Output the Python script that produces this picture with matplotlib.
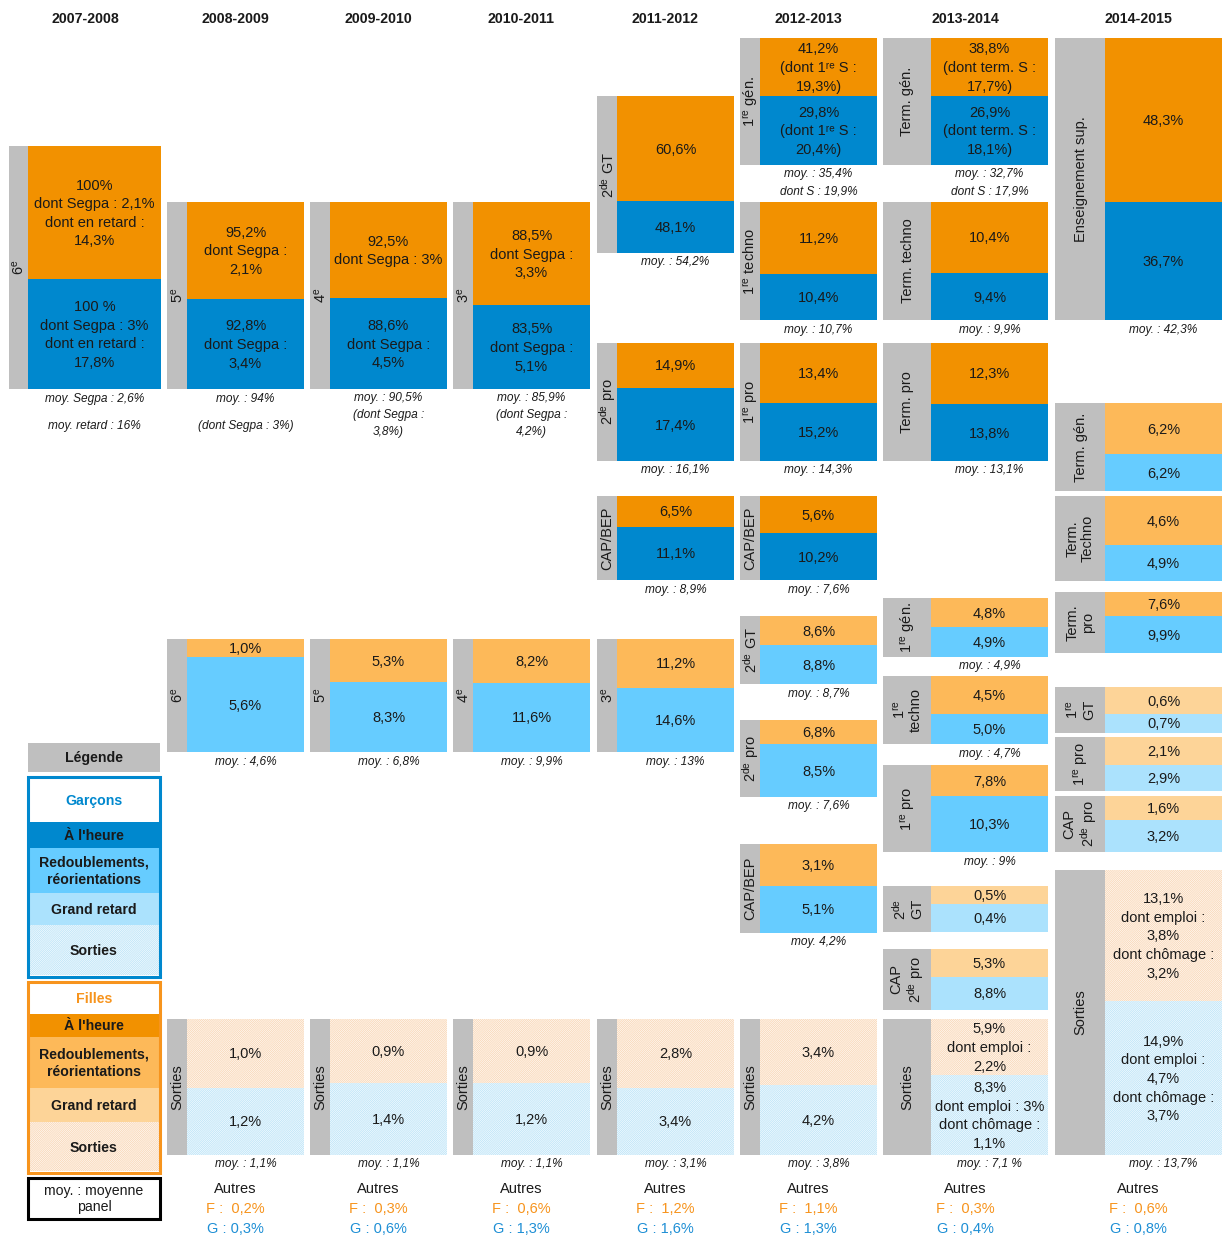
import matplotlib
matplotlib.use("Agg")
import matplotlib.pyplot as plt
from matplotlib.patches import Rectangle

plt.rcParams["font.family"] = ["Liberation Sans", "DejaVu Sans"]
plt.rcParams["mathtext.fontset"] = "custom"
plt.rcParams["mathtext.rm"] = "Liberation Sans"
plt.rcParams["mathtext.it"] = "Liberation Sans:italic"
plt.rcParams["mathtext.bf"] = "Liberation Sans:bold"
plt.rcParams["hatch.linewidth"] = 0.5

RE = r"$^{\mathrm{re}}$"
DE = r"$^{\mathrm{de}}$"
E = r"$^{\mathrm{e}}$"
RE_INLINE = "\u02b3\u1d49"   # superscript "re" that keeps line heights even

# ---------------------------------------------------------------- data
years = ["2007-2008", "2008-2009", "2009-2010", "2010-2011",
         "2011-2012", "2012-2013", "2013-2014", "2014-2015"]

labels_0708 = ["6" + E]
girls_0708 = ["100%\ndont Segpa : 2,1%\ndont en retard :\n14,3%"]
boys_0708 = ["100 %\ndont Segpa : 3%\ndont en retard :\n17,8%"]
avg_0708 = [("moy. Segpa : 2,6%", "moy. retard : 16%")]

labels_0809 = ["5" + E, "6" + E, "Sorties"]
girls_0809 = ["95,2%\ndont Segpa :\n2,1%", "1,0%", "1,0%"]
boys_0809 = ["92,8%\ndont Segpa :\n3,4%", "5,6%", "1,2%"]
avg_0809 = [("moy. : 94%", "(dont Segpa : 3%)"), "moy. : 4,6%", "moy. : 1,1%"]

labels_0910 = ["4" + E, "5" + E, "Sorties"]
girls_0910 = ["92,5%\ndont Segpa : 3%", "5,3%", "0,9%"]
boys_0910 = ["88,6%\ndont Segpa :\n4,5%", "8,3%", "1,4%"]
avg_0910 = ["moy. : 90,5%\n(dont Segpa :\n3,8%)", "moy. : 6,8%", "moy. : 1,1%"]

labels_1011 = ["3" + E, "4" + E, "Sorties"]
girls_1011 = ["88,5%\ndont Segpa :\n3,3%", "8,2%", "0,9%"]
boys_1011 = ["83,5%\ndont Segpa :\n5,1%", "11,6%", "1,2%"]
avg_1011 = ["moy. : 85,9%\n(dont Segpa :\n4,2%)", "moy. : 9,9%", "moy. : 1,1%"]

labels_1112 = ["2" + DE + " GT", "2" + DE + " pro", "CAP/BEP", "3" + E, "Sorties"]
girls_1112 = ["60,6%", "14,9%", "6,5%", "11,2%", "2,8%"]
boys_1112 = ["48,1%", "17,4%", "11,1%", "14,6%", "3,4%"]
avg_1112 = ["moy. : 54,2%", "moy. : 16,1%", "moy. : 8,9%", "moy. : 13%", "moy. : 3,1%"]

labels_1213 = ["1" + RE + " gén.", "1" + RE + " techno", "1" + RE + " pro", "CAP/BEP",
               "2" + DE + " GT", "2" + DE + " pro", "CAP/BEP", "Sorties"]
girls_1213 = ["41,2%\n(dont 1" + RE_INLINE + " S :\n19,3%)", "11,2%", "13,4%", "5,6%",
              "8,6%", "6,8%", "3,1%", "3,4%"]
boys_1213 = ["29,8%\n(dont 1" + RE_INLINE + " S :\n20,4%)", "10,4%", "15,2%", "10,2%",
             "8,8%", "8,5%", "5,1%", "4,2%"]
avg_1213 = ["moy. : 35,4%\ndont S : 19,9%", "moy. : 10,7%", "moy. : 14,3%", "moy. : 7,6%",
            "moy. : 8,7%", "moy. : 7,6%", "moy. 4,2%", "moy. : 3,8%"]

labels_1314 = ["Term. gén.", "Term. techno", "Term. pro", "1" + RE + " gén.",
               "1" + RE + "\ntechno", "1" + RE + " pro", "2" + DE + "\nGT",
               "CAP\n2" + DE + " pro", "Sorties"]
girls_1314 = ["38,8%\n(dont term. S :\n17,7%)", "10,4%", "12,3%", "4,8%", "4,5%",
              "7,8%", "0,5%", "5,3%", "5,9%\ndont emploi :\n2,2%"]
boys_1314 = ["26,9%\n(dont term. S :\n18,1%)", "9,4%", "13,8%", "4,9%", "5,0%",
             "10,3%", "0,4%", "8,8%", "8,3%\ndont emploi : 3%\ndont chômage :\n1,1%"]
avg_1314 = ["moy. : 32,7%\ndont S : 17,9%", "moy. : 9,9%", "moy. : 13,1%", "moy. : 4,9%",
            "moy. : 4,7%", "moy. : 9%", "", "", "moy. : 7,1 %"]

labels_1415 = ["Enseignement sup.", "Term. gén.", "Term.\nTechno", "Term.\npro",
               "1" + RE + "\nGT", "1" + RE + " pro", "CAP\n2" + DE + " pro", "Sorties"]
girls_1415 = ["48,3%", "6,2%", "4,6%", "7,6%", "0,6%", "2,1%", "1,6%",
              "13,1%\ndont emploi :\n3,8%\ndont chômage :\n3,2%"]
boys_1415 = ["36,7%", "6,2%", "4,9%", "9,9%", "0,7%", "2,9%", "3,2%",
             "14,9%\ndont emploi :\n4,7%\ndont chômage :\n3,7%"]
avg_1415 = ["moy. : 42,3%", "", "", "", "", "", "", "moy. : 13,7%"]

# "Autres" exits per year (girls, boys); none for the first year
others_girls = [None, "0,2%", "0,3%", "0,6%", "1,2%", "1,1%", "0,3%", "0,6%"]
others_boys = [None, "0,3%", "0,6%", "1,3%", "1,6%", "1,3%", "0,4%", "0,8%"]

# ---------------------------------------------------------------- layout (pixels)
# column: label strip left, box left, box right
col_x = [(9, 28, 161), (167, 187, 304), (310, 330, 447), (453, 473, 590),
         (597, 617, 734), (740, 760, 877), (883, 931, 1048), (1055, 1105, 1222)]
# block rows: top, girls/boys split, bottom, tier
rows = [
    [(146, 279, 389, 0)],
    [(202, 299, 389, 0), (639, 657, 752, 1), (1019, 1088, 1155, 3)],
    [(202, 298, 389, 0), (639, 682, 752, 1), (1019, 1083, 1155, 3)],
    [(202, 305, 389, 0), (639, 683, 752, 1), (1019, 1083, 1155, 3)],
    [(96, 201, 253, 0), (343, 388, 461, 0), (496, 527, 580, 0), (639, 688, 752, 1),
     (1019, 1088, 1155, 3)],
    [(38, 96, 165, 0), (202, 274, 320, 0), (343, 403, 461, 0), (496, 533, 580, 0),
     (616, 645, 684, 1), (720, 744, 797, 1), (844, 886, 933, 1), (1019, 1085, 1155, 3)],
    [(38, 96, 165, 0), (202, 273, 320, 0), (343, 404, 461, 0), (598, 627, 657, 1),
     (676, 714, 744, 1), (765, 796, 852, 1), (886, 904, 932, 2), (949, 977, 1010, 2),
     (1019, 1075, 1155, 3)],
    [(38, 202, 320, 0), (403, 454, 491, 1), (496, 545, 581, 1), (592, 616, 653, 1),
     (687, 714, 733, 2), (737, 765, 791, 2), (796, 820, 852, 2), (870, 1001, 1155, 3)],
]

all_labels = [labels_0708, labels_0809, labels_0910, labels_1011,
              labels_1112, labels_1213, labels_1314, labels_1415]
all_girls = [girls_0708, girls_0809, girls_0910, girls_1011,
             girls_1112, girls_1213, girls_1314, girls_1415]
all_boys = [boys_0708, boys_0809, boys_0910, boys_1011,
            boys_1112, boys_1213, boys_1314, boys_1415]
all_avg = [avg_0708, avg_0809, avg_0910, avg_1011,
           avg_1112, avg_1213, avg_1314, avg_1415]

# ---------------------------------------------------------------- styles
GREY = "#BFBFBF"
GIRL = ["#F29100", "#FDB959", "#FDD498", "#FFF9F3"]
BOY = ["#0088CE", "#66CCFF", "#ABE2FD", "#F4FBFF"]
GIRL_HATCH = "#F8D3B0"
BOY_HATCH = "#B8E2F6"
TXT = "#1A1A1A"
VAL_FS = 10.5
AVG_FS = 8.6

fig = plt.figure(figsize=(12.23, 12.37), dpi=100)
ax = fig.add_axes([0, 0, 1, 1])
ax.set_xlim(0, 1223)
ax.set_ylim(1237, 0)
ax.axis("off")


def box(x0, y0, x1, y1, color, hatch_color=None, **kw):
    if hatch_color is None:
        ax.add_patch(Rectangle((x0, y0), x1 - x0, y1 - y0, facecolor=color,
                               edgecolor="none", lw=0, **kw))
    else:
        ax.add_patch(Rectangle((x0, y0), x1 - x0, y1 - y0, facecolor=color,
                               edgecolor=hatch_color, lw=0, hatch="/" * 16, **kw))


for c in range(len(years)):
    gx, bx0, bx1 = col_x[c]
    ax.text((gx + bx1) / 2, 19, years[c], ha="center", va="center",
            fontsize=10.2, fontweight="bold", color=TXT)
    for (top, mid, bot, tier), lab, g, b, avg in zip(
            rows[c], all_labels[c], all_girls[c], all_boys[c], all_avg[c]):
        box(gx, top, bx0, bot, GREY)
        hatched = tier == 3
        box(bx0, top, bx1, mid, GIRL[tier], GIRL_HATCH if hatched else None)
        box(bx0, mid, bx1, bot, BOY[tier], BOY_HATCH if hatched else None)
        ax.text((gx + bx0) / 2 + 0.5, (top + bot) / 2, lab, rotation=90,
                ha="center", va="center", multialignment="center",
                fontsize=VAL_FS, color=TXT, linespacing=1.1)
        xc = (bx0 + bx1) / 2
        ax.text(xc, (top + mid) / 2 + 1, g, ha="center", va="center",
                multialignment="center", fontsize=VAL_FS, color=TXT, linespacing=1.42)
        ax.text(xc, (mid + bot) / 2 + 1, b, ha="center", va="center",
                multialignment="center", fontsize=VAL_FS, color=TXT, linespacing=1.42)
        if isinstance(avg, tuple):
            ax.text(xc, bot + 10, avg[0], ha="center", va="center",
                    fontsize=AVG_FS, style="italic", color=TXT)
            ax.text(xc, bot + 37, avg[1], ha="center", va="center",
                    fontsize=AVG_FS, style="italic", color=TXT)
        elif avg:
            ax.text(xc, bot + 3.5, avg, ha="center", va="top", multialignment="center",
                    fontsize=AVG_FS, style="italic", color=TXT, linespacing=1.55)
    if others_girls[c] is not None:
        xm = (gx + bx1) / 2
        ax.text(xm, 1189, "Autres", ha="center", va="center", fontsize=VAL_FS, color=TXT)
        ax.text(xm, 1209, "F :  " + others_girls[c], ha="center", va="center",
                fontsize=VAL_FS, color="#F7941D")
        ax.text(xm, 1229, "G : " + others_boys[c], ha="center", va="center",
                fontsize=VAL_FS, color="#1E8FD5")

# ---------------------------------------------------------------- legend
LX0, LX1 = 28, 160
LXC = (LX0 + LX1) / 2
box(LX0, 743, LX1, 772, GREY)
ax.text(LXC, 758, "Légende", ha="center", va="center", fontsize=10.2,
        fontweight="bold", color=TXT)

legend_items = ["À l'heure", "Redoublements,\nréorientations", "Grand retard", "Sorties"]
boy_bands = [(822, 848), (848, 893), (893, 925), (925, 975)]
girl_bands = [(1014, 1037), (1037, 1088), (1088, 1122), (1122, 1171)]

for title, tcol, head, bands, cols, hc, frame in [
        ("Garçons", BOY[0], (779, 822), boy_bands, BOY, BOY_HATCH, (777, 977)),
        ("Filles", "#F7941D", (984, 1014), girl_bands, GIRL, GIRL_HATCH, (982, 1173))]:
    ax.text(LXC, sum(head) / 2, title, ha="center", va="center", fontsize=10.2,
            fontweight="bold", color=tcol)
    for i, ((y0, y1), name) in enumerate(zip(bands, legend_items)):
        box(LX0, y0, LX1, y1, cols[i], hc if i == 3 else None)
        ax.text(LXC, (y0 + y1) / 2 + 1, name, ha="center", va="center",
                multialignment="center", fontsize=10.2, fontweight="bold",
                color=TXT, linespacing=1.3)
    ax.add_patch(Rectangle((LX0, frame[0]), LX1 - LX0, frame[1] - frame[0],
                           facecolor="none", edgecolor=tcol, lw=2.2))

ax.add_patch(Rectangle((LX0, 1178), LX1 - LX0, 41, facecolor="white",
                       edgecolor="black", lw=2.2))
ax.text(LXC, 1199, "moy. : moyenne\npanel", ha="center", va="center",
        fontsize=10.2, color=TXT, linespacing=1.25)

fig.savefig("out.png", dpi=100)
